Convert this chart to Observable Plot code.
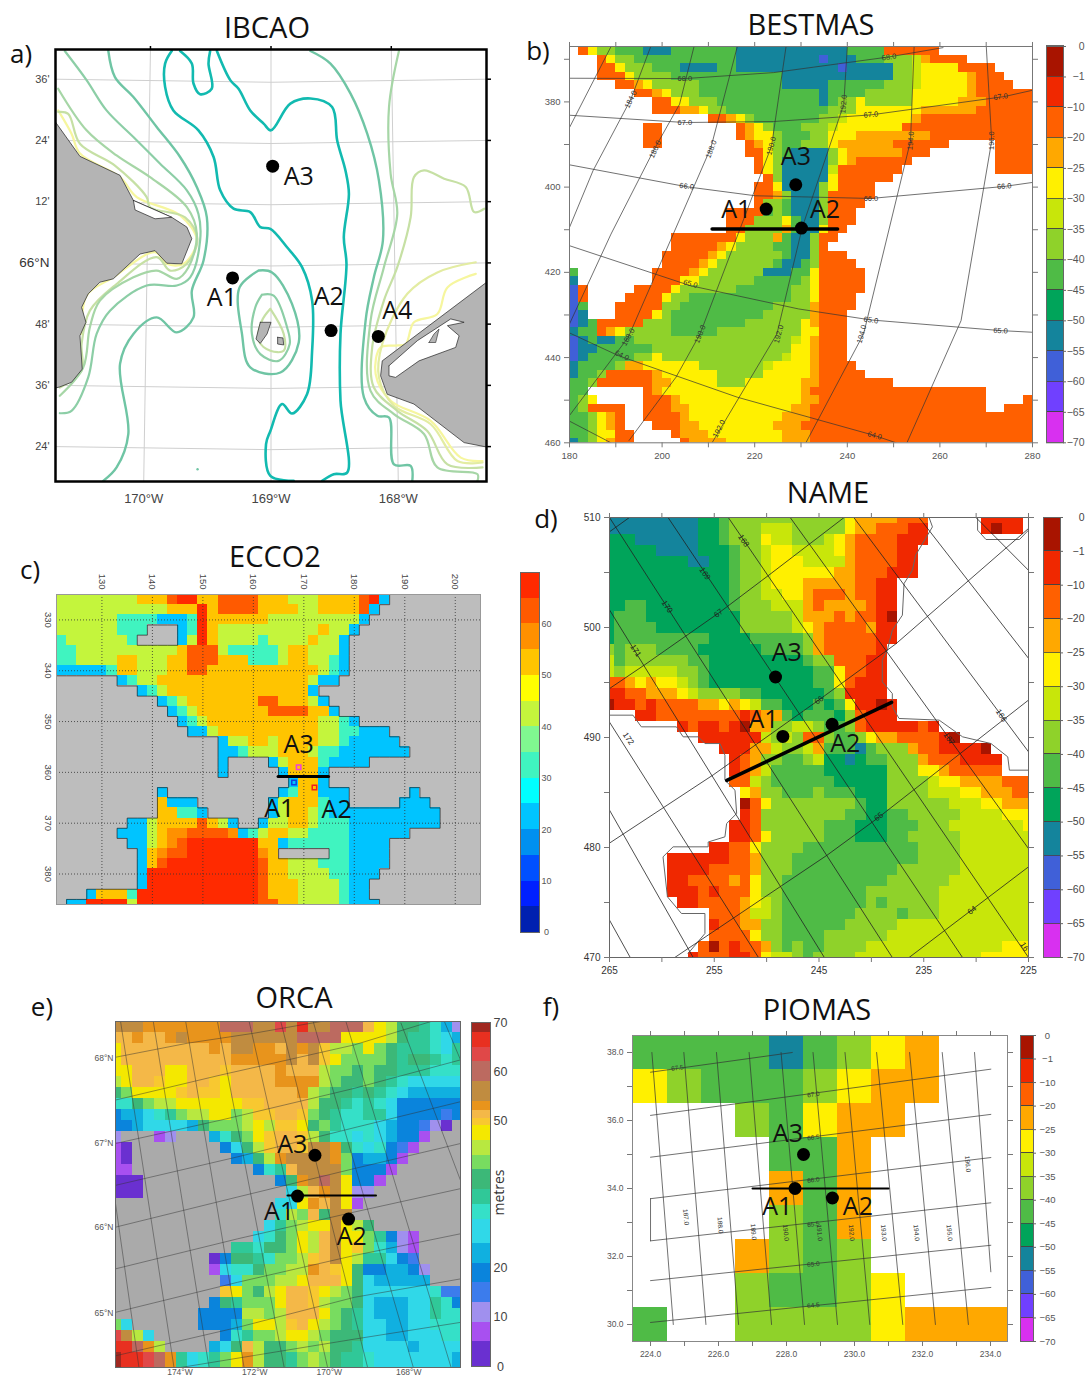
<!doctype html>
<html><head><meta charset="utf-8">
<script src="https://cdn.jsdelivr.net/npm/d3@7"></script>
<script src="https://cdn.jsdelivr.net/npm/@observablehq/plot@0.6"></script>
<style>
html,body{margin:0;background:#fff}
#page{position:relative;width:1085px;height:1377px;overflow:hidden;background:#fff;font-family:"Open Sans"}
.t{position:absolute;transform:translate(-50%,-50%);white-space:nowrap;color:#111;line-height:1}
#page svg{position:absolute;max-width:none}
</style></head><body><div id="page"></div>
<script>
// ---------- DATA ----------
const titles=[["IBCAO",267,26],["BESTMAS",811,23],["ECCO2",275,555],["NAME",828,491],["ORCA",294,996],["PIOMAS",817,1008]];
const letters=[["a)",21,53],["b)",538,50],["c)",30,569],["d)",546,518],["e)",42,1006],["f)",551,1006]];

// shared depth classes of panels b, d, f
const nclCodes=["a","b","c","d","e","f","g","h","i","j","k","l","m","."];
const nclColors=["#a81400","#f02800","#ff6000","#ffa800","#fff000","#c8e60a","#8fd22a","#4fbb46","#00a45a","#14849c","#4060d8","#7040ff","#d830f0","#ffffff"];
const nclLabels=["0","−1","−10","−20","−25","−30","−35","−40","−45","−50","−55","−60","−65","−70"];

// ---------- a) IBCAO ----------
const aLatTicks=[65.4,65.6,65.8,66,66.2,66.4,66.6];
const aLatLabels=["24'","36'","48'","66°N","12'","24'","36'"];
const aLonTicks=[-170,-169,-168];
const aTopTicks=[-169.947,-169,-168.055];
const iso50=[
[[-169.425,66.692],[-169.32,66.597],[-169.255,66.569],[-169.163,66.498],[-169.058,66.455],[-169,66.433],[-168.848,66.52],[-168.69,66.537],[-168.52,66.509],[-168.48,66.4],[-168.415,66.302],[-168.388,66.226],[-168.428,66.084],[-168.407,65.997],[-168.454,65.768],[-168.454,65.55],[-168.402,65.315],[-168.507,65.31],[-168.598,65.288]],
[[-169.78,66.692],[-169.832,66.651],[-169.832,66.575],[-169.767,66.498],[-169.57,66.433],[-169.451,66.346],[-169.399,66.237],[-169.294,66.177],[-169.163,66.166],[-169.084,66.117],[-169.005,66.111],[-168.874,66.051],[-168.756,65.986],[-168.677,65.877],[-168.677,65.713],[-168.717,65.571],[-168.835,65.508],[-168.913,65.539],[-169.005,65.451],[-169.039,65.408],[-169.005,65.304],[-168.822,65.288]],
[[-169.714,66.692],[-169.622,66.651],[-169.609,66.586],[-169.557,66.551],[-169.465,66.569],[-169.491,66.651],[-169.478,66.692]]];
const iso45=[
[[-170.278,66.692],[-170.226,66.607],[-170.081,66.542],[-169.898,66.444],[-169.714,66.346],[-169.583,66.248],[-169.504,66.149],[-169.53,66.008],[-169.622,65.909],[-169.609,65.822],[-169.74,65.773],[-169.898,65.822],[-170.081,65.768],[-170.186,65.67],[-170.121,65.441],[-170.213,65.332],[-170.318,65.288]],
[[-168.69,66.692],[-168.533,66.651],[-168.375,66.553],[-168.244,66.422],[-168.152,66.269],[-168.121,66.073],[-168.192,65.953],[-168.257,65.811],[-168.27,65.561],[-168.165,65.501],[-168.073,65.495],[-168.034,65.342],[-167.903,65.337],[-167.89,65.288]],
[[-169.097,65.975],[-168.992,65.969],[-168.835,65.866],[-168.782,65.74],[-168.926,65.642],[-169.163,65.659],[-169.228,65.768],[-169.247,65.92],[-169.097,65.975]]];
const iso40=[
[[-170.62,66.692],[-170.449,66.597],[-170.292,66.498],[-170.081,66.411],[-169.871,66.324],[-169.661,66.237],[-169.57,66.16],[-169.557,66.073],[-169.635,65.953],[-169.74,65.926],[-169.977,65.926],[-170.265,65.844],[-170.37,65.768],[-170.436,65.626],[-170.567,65.517],[-170.659,65.509]],
[[-169.071,65.896],[-168.979,65.893],[-168.874,65.79],[-168.853,65.735],[-168.94,65.68],[-169.084,65.702],[-169.15,65.768],[-169.123,65.855],[-169.071,65.896]]];
const iso35=[
[[-170.672,66.569],[-170.449,66.433],[-170.213,66.351],[-169.95,66.28],[-169.661,66.182],[-169.583,66.095],[-169.648,65.986],[-169.74,65.948],[-169.898,65.975],[-170.081,65.953],[-170.344,65.877],[-170.423,65.79],[-170.475,65.659],[-170.659,65.566]],
[[-167.995,66.692],[-168.073,66.509],[-168.06,66.291],[-168.008,66.16],[-168.113,65.986],[-168.218,65.811],[-168.218,65.582],[-168.034,65.506],[-167.798,65.441],[-167.693,65.332],[-167.378,65.31],[-167.378,65.288]]];
const iso30=[
[[-170.672,66.493],[-170.593,66.487],[-170.501,66.389],[-170.226,66.318],[-169.977,66.215],[-169.95,66.182],[-169.675,66.149],[-169.578,66.079],[-169.661,65.997],[-169.793,65.975],[-169.898,66.019],[-170.213,65.931],[-170.423,65.844],[-170.488,65.735],[-170.488,65.648],[-170.659,65.593]],
[[-167.325,66.177],[-167.404,66.166],[-167.47,66.248],[-167.64,66.275],[-167.798,66.302],[-167.877,66.28],[-167.903,66.149],[-168.008,65.986],[-168.113,65.877],[-168.205,65.724],[-168.192,65.593],[-168.008,65.517],[-167.772,65.451],[-167.614,65.342],[-167.338,65.332]],
[[-169.005,65.85],[-168.9,65.768],[-168.9,65.713],[-169.005,65.713],[-169.097,65.746],[-169.071,65.811],[-169.005,65.85]]];
const iso25=[[[-167.391,66.002],[-167.693,65.969],[-167.929,65.899],[-168.126,65.735],[-168.152,65.626],[-168.034,65.533],[-167.745,65.473],[-167.535,65.353],[-167.338,65.348]]];
const iso20=[
[[-170.672,66.498],[-170.567,66.422],[-170.501,66.357],[-170.186,66.28],[-170.055,66.215],[-169.714,66.155],[-169.583,66.073],[-169.688,65.997],[-169.819,65.997],[-169.911,66.035],[-170.239,65.953],[-170.449,65.893],[-170.488,65.768]],
[[-167.391,65.964],[-167.614,65.92],[-167.693,65.833],[-167.877,65.806],[-167.942,65.735],[-168.021,65.73],[-168.139,65.724],[-168.178,65.637],[-168.06,65.55],[-167.745,65.484],[-167.509,65.364],[-167.338,65.353]]];
const aLand=[
[[-170.693,66.46],[-170.501,66.348],[-170.186,66.286],[-170.081,66.204],[-169.78,66.149],[-169.661,66.117],[-169.622,66.079],[-169.701,65.997],[-169.819,65.999],[-169.911,66.04],[-170.029,66.029],[-170.239,65.948],[-170.344,65.937],[-170.436,65.899],[-170.488,65.855],[-170.454,65.806],[-170.501,65.762],[-170.483,65.653],[-170.567,65.61],[-170.659,65.595],[-170.8,65.58],[-170.8,66.46],[-170.693,66.46]],
[[-167.2,65.97],[-168.126,65.68],[-168.139,65.631],[-168.087,65.571],[-167.877,65.539],[-167.483,65.413],[-167.2,65.39],[-167.2,65.97]],
[[-169.084,65.806],[-169,65.806],[-169.031,65.768],[-169.084,65.737],[-169.118,65.751],[-169.084,65.806]],
[[-168.948,65.757],[-168.906,65.755],[-168.9,65.732],[-168.948,65.735],[-168.948,65.757]]];
const aLagoons=[
[[-170.081,66.204],[-170.068,66.173],[-169.911,66.144],[-169.78,66.149],[-170.081,66.204]],
[[-168.073,65.664],[-168.073,65.631],[-168.021,65.626],[-167.837,65.68],[-167.549,65.724],[-167.522,65.762],[-167.614,65.795],[-167.483,65.806],[-167.588,65.817],[-167.85,65.746],[-168.073,65.664]]];
const aSpit=[[-167.759,65.74],[-167.719,65.768],[-167.68,65.784],[-167.706,65.74],[-167.759,65.74]];
const aSites=[[-168.987,66.316],[-169.302,65.951],[-168.528,65.779],[-168.157,65.76]];
const aNames=[["A3",-168.782,66.28],["A1",-169.386,65.884],["A2",-168.546,65.888],["A4",-168.008,65.844]];

// ---------- b) BESTMAS (run-length rows, 2 grid units per cell) ----------
const bRows=[".ceg2h3j3h7j12h4c6.10",".3ceg2h11j9kj3h3g3fdc4.7",".3c2eg3h3j4h2j11kj5g2fe4c4.4",".3c3eg4h12j12g2fe5dc3.3",".5c2deg5h9j5h6g3fe5dc4.2",".7c2deg3h13jh4g5e6dc6",".9c2e2g3h11jhg2eg5e5d3c5",".9c3d2eg2h11g3e7d6c6",".15c2degh7g2fe7dc12",".8c2.8cdegh3g3fe7c14",".8c2.8cde2gh3g2e3d8c11",".8c2.9cdegh2g3ed6c6.5c4",".19c2eghj4ged6c3.7c4",".20cegj5gedc6.9c4",".20cegj5fc7.10c4",".21cgj5ec6.15",".20c2ej4gec4.17",".20c2dgj3gc5.17",".20cg2hj3gc4.18",".17c4hghj3gc3.19",".17c3g3ehj2gc3.19",".17c2g4dhj2ec2.20",".11c7eg3dhj2gc2.21",".11c5deg4h2j2gc.22",".10c5deg6hj2gc3.20",".10c4deg6hj2hgc4.19","h.8c4deg6j3h2ec5.18","j.8c3e2g6h5gec5.18","kc.5c4eg6h6g2ec5.18","kc.4c4eg2h11g2ec4.19","kh.3c5g2h10g4dc4.19","kj.3c4egh10g5dc3.20","kjhc5g3h8g6edc3.20","jh2cdeg5h5g9e2c3.20","kjhj2h2g17fedc3.20","kj2h6g15e2dc3.20","kjh5g2eg13fe2dc3.20","jh4gd2e6g7fe4dc4.19","jh2gc5de6g5e5dc5.18","h2gc6d2e5g3e6d2c8.15","h2.6cde15dc19.5","hge.5c3de13d2c18.4c","hgc4.2c3d2e11d2c19.2c3","h2gedc.2c4de10d3c24","h2gedc.3c3d2e8d3c25","h2ge2c2.4cd3e8d3c24","jhgedc2.5cd4e6d3c24"];
const bLat=[[[180,374.45],[204.94,374.53],[224.04,373.13],[248.98,369.45],[260.67,367.27]],
[[180,383.13],[204.94,384.84],[224.04,384.61],[245.08,383.05],[273.92,378.75],[280,377.27]],
[[180,394.77],[205.33,399.92],[220.14,402.03],[245.08,402.66],[273.92,399.84],[280,398.9]],
[[180,413.75],[206.11,423.13],[229.49,428.59],[245.08,431.17],[273.14,433.67],[280,434.06]],
[[180,434.22],[190.52,439.53],[216.24,449.3],[245.86,458.28],[250.54,460]],
[[180,454.92],[188.96,460]]];
const bLon=[[[188.96,367.03],[180,386.02]],
[[197.54,367.03],[193.25,379.38],[185.07,396.17],[180,409.45]],
[[206.89,367.03],[203.77,380.55],[198.32,391.09],[188.96,411.02],[180,432.11]],
[[216.24,367.03],[210.55,390.7],[192.7,435.23],[180,453.59]],
[[226.77,367.03],[223.65,390.31],[208.2,434.45],[203,444.61],[192.86,459.45]],
[[240.01,367.03],[239.24,380.55],[230.27,409.45],[224.8,434.45],[210.79,460]],
[[254.43,367.03],[253.66,389.14],[243.52,434.45],[231.05,460]],
[[270.02,367.03],[271.19,389.14],[264.57,431.33],[252.88,460]]];
const bLineLabels=[["68.0",204.9,374.5,0],["68.0",249,369.5,-8],["67.0",204.9,384.8,0],["67.0",245.1,383,-5],["67.0",273.1,378.8,-8],["66.0",205.3,399.8,8],["66.0",245.1,402.7,0],["66.0",273.9,399.8,-5],["65.0",206.1,422.7,15],["65.0",245.1,431.2,8],["65.0",273.1,433.7,3],["64.0",191.3,439.5,25],["64.0",245.9,458.3,15],
["184.0",193.25,379.4,-65],["186.0",198.5,391.1,-65],["188.0",210.6,391.1,-68],["190.0",223.6,390.3,-75],["192.0",239.2,380.5,-85],["194.0",253.7,389.1,-85],["196.0",271.2,389.1,-90],["188.0",192.7,435.2,-60],["190.0",208.2,434.5,-68],["192.0",225.2,434.5,-75],["194.0",243.1,434.5,-75],["192.0",212.3,456.7,-62]];
const bSites=[[228.87,399.45],[222.48,405.16],[230.1,409.6]];
const bNames=[["A3",228.9,393],["A1",216,405.4],["A2",235.2,405.4]];
const bSection=[[210.8,409.84],[237.9,409.84]];

// ---------- c) ECCO2 (run-length rows, 2 grid units per cell) ----------
const eccoCodes=["A","B","C","D","E","F","G","H","I","J","K","L","M","N","#"];
const eccoColors=["#0020b0","#0020ff","#0050ff","#0090f0","#00c4ff","#00ffff","#40f4c0","#80f890","#c4f53c","#ffff00","#ffc400","#ff9000","#ff5a00","#ff2a00","#bdbdbd"];
const cRows=["I8K3MN2K2M4K3I3K4MNE#9","I11K3NKM4K4I2K4ME#10","I6G4E3GNK6I9E#11","I6G3#3EGNKI10KI2E#12","GI6G#4EINKI4GI4KI2E#13","G2I10KM3IG5IK2I3E#13","G2I4K2I3K2M3K3G3IK2I2GE#13","E5GK2I3K2M2K11IGE#13","#6EGI2K15IE2#14","#8EGIK14E#16","#10EGIK7M2K3IE#15","#11EGIK7M4K2E#14","#12EGIK11I2GE#12","#13E2IK10I2G2E3#9","#16EI2K2IK4I2GE5#8","#16E2GI3K3IG2E7#7","#16E#4EIK3GE4#11","#16E#5EK3E#15","#23EK2E#15","#10E#11EGK2E3#6E#6","#10KE3#7EIK3GE2#5E3#5","#10K2G2E#6EIK2IGE11#4","#7E2IK4MKIE#2EI2K2IG3E9#4","#6E3IKL2M4LEGIK2I2G4E6#7","#7E2IKLMN7K2EG6E4#9","#8EKLM2N7LK#5G2E4#9","#8EKMN9MK2I3G3E4#9","#8EN11MK2I4G2E3#10","#8EN11MK3I4GE2#11","#3EK3GN12MK3I4GE2#11","#E2N4IN12M2K2I4GE3#10"];
const cXTicks=[130,140,150,160,170,180,190,200];
const cYTicks=[330,340,350,360,370,380];
const cBarTicks=[0,10,20,30,40,50,60];
const cSection=[[164.9,360.8],[174.9,360.8]];
const cMagenta=[[168.97,358.98]],cBlue=[[168.05,361.98]],cRed=[[172.1,362.96]];
const cNames=[["A3",168.97,354.7],["A1",165.15,367.2],["A2",176.5,367.5]];

// ---------- d) NAME (run-length rows, one per grid unit) ----------
const dRows=["j9i2hg11ed4c3.5b4.","j9i2hg3f3g5ed2c3b2.5bab2.","i3j6i2hg3ef2g3fedc4b3.10","i5j4i3hg2fe2f4edc4b2.11","i8j2i2hg2fe3f4dc4b2.11","i12hg2fe6d2c3b3.11","i12hg2fe3d5c2b2.13","i12hg2f2e2dc3dc2b2.13","i2h2i8hg3f3dcd4cb2.13","ih3i9g5fd3cdc2ba.13","ih4i8g5fedc4db2.13","ih9i4h5gdc5b2.13","ghg3h4i6h4gdc5b.14","fhg6h2i9hg2c3b2.14","fgf5g2hi10h2ec2b2.14","c2dede2fghi10h2ecb3.14","b2c2d3efg4h2i6hgb4.14","ab2cbc4d2edefh2i3hiheb2ab.13",".3b2c8bcd2hih3igcb3.13",".7bcb2cbad2g2f2gh2gcb5cb.9",".9b6fgfgc2gh2ged2c4ba.7",".11b3d2fg2fdh3jhg3dc2b4a.4",".12bcdg2h2gfi2jih2g3dc3b4.3",".12bcdfh5i6g3e2dc5.3",".12c2fgh6i5g4fe2d4c3",".13edg2h3gh3i3g4f3e2d3c2",".13aceg8hi2g6f3e2d3",".13bcg8h2i2h2g5f4e3",".12b2cg6h3i3h3g3f7e",".12b2ceg5h3i3h2g5f7",".10b2c2eg4h11g4f7",".6b6c2dg3h12g4f7",".6b4c4dg3h10g6f7",".6b2c4dceg2h10g6f8",".6b3cbc3eg2h8g7f9",".7b2c4defgh8ghg5f9",".10c3df2gh7g4hg3f9",".10bc2d2g2h6g5f13",".10c4eg2h4g6f14",".9cacbc2dghgh2g4f13e3",".8bc3b2cef2ghg4f12e5"];
const dLon=[[[265,510],[238,470]],[[259.41,510],[231.3,470]],[[253.66,510],[225,470]],[[247.75,510],[225,479.9]],[[241.68,510],[225,488.7]],[[235.45,510],[225,497.2]],[[230.02,510],[225,505.2]],[[265,501.6],[244.49,470]],[[265,491.4],[250.78,470]],[[265,483.4],[257.01,470]],[[265,473.4],[263.02,470]]];
const dLat=[[[236.4,470],[225,478.24]],[[258.77,470],[244.23,479.3],[239.44,482.64],[225,493.4]],[[265,480.4],[255.1,486.6],[245.03,493.4],[237.68,498.5],[225,509]],[[265,494.45],[261.65,496.6],[254.6,501.3],[249.8,504.75],[242.6,510]],[[265,508.7],[263.1,510]]];
const dCoast=[[[265,492.03],[262.76,492.03],[261.96,490.97],[258.61,490.97],[257.97,490.06],[256.53,490.06],[255.89,489.45],[254.46,489.45],[253.98,488.39],[253.98,486.12],[253.02,485.21],[252.86,483.09],[253.82,482.18],[253.98,480.97],[255.58,480.5],[255.58,480.06],[258.93,480.06],[259.89,479.15],[259.47,475.52],[258.13,474],[255.89,474],[255.89,472.18],[257.5,470.36]],
[[234.49,510],[234.17,509.15],[235.77,506.58],[236.09,505.2],[236.88,504],[237.04,501.12],[238,499.76],[238.48,497.94],[238.96,497.03],[238.96,495.06],[238,494],[238,492.79],[237.36,491.73],[233.53,491.58],[231.29,490.06],[228.58,489.45],[226.98,488.24],[226.82,487.03],[225,487.03]],
[[229.86,510],[229.86,508.85],[229.06,508],[225.86,508],[225,508.85]]];
const dLineLabels=[["168",252.2,507.9,57],["169",255.9,504.9,57],["170",259.5,501.9,57],["171",262.5,497.9,57],["172",263.2,489.9,57],["167",232.6,489.9,57],["166",227.6,492,57],["16",225.4,471,57],["67",254.6,501.3,-37],["66",245,493.4,-37],["65",239.3,482.8,-37],["64",230.4,474.3,-37]];
const dSites=[[249.15,495.5],[248.45,490.1],[243.75,491.2]];
const dNames=[["A3",248.07,497.7],["A1",250.3,491.6],["A2",242.5,489.45]];
const dSection=[[253.8,486.1],[238.07,493.2]];

// ---------- e) ORCA (one character per model cell) ----------
const orcaCodes=["p","q","r","s","t","u","v","w","x","y","z","A","B","C","D","E","F","G","H","I","J","#"];
const orcaColors=["#6a30d0","#a850f0","#a090ee","#3c7cec","#0a84dc","#10b0e0","#30d8e8","#35e0c8","#30c898","#3cb878","#78dc60","#b8e840","#f4e800","#f8c830","#f4b848","#e8941c","#c08c40","#bc6a60","#e04848","#e83020","#a02820","#aaaaaa"];
const orcaEdges=[0,5,9,13,17,21,25,30,33,36,40,43,46,49,50.5,52,54,58,62,65,68,70];
const eRows=["FFFEEEEEEEGGGFFHFIFFGGGDBAyyxwur","DDEDDEFEEEEFFFFFFGGGGBBBBAyxxwvu","BDDDDDDDDEDFFEEDFEFCAAzBzyxxxwvx","BDDDDDDDDDDEEEEEFDFCBzzzzyxyyxwx","BBDDDBBDDDCDDDDEDDDAzzyzyyxxxwww","ABDDCBBDDCBDDDDEEEEAzyyzyxwvvvvv","yzBBBBCDCCBDDDDDDEAzyyxyxwvuuuuu","wwyzAABBBBBBCCDDDDAyyxwxwvtttttt","tuuvwxzAABBzACCDDCzyxwwxxvttttst","ttuvvvvuyzzzABACCByzxwwwvuttsrp#","r###qr###uwyzBCDDCAywwvwvuttq###","qp########tvyACDDCFFEywvwtsq####","qp#########tuyAEFFFFEztuutq#####","qq###########twxDFFFFztttq######","ppp############tyEFGFBttq#######","ppp#############vADEFBrr########","###############vvBEDFBq#########","###############wAzDyFF##########","##############vxzABBFBAy########","#############vwyzBADFBBzxtrq####","###########xxwyyzBADFBCzwurq####","#########ptyyxwzzACDFBAxxvts####","#########qvwwyzzAAEDCByttuutr###","##########svzzzAABDDDByvuuuuu###","##########CBzyABDDCBAzyvvvvvvwss","#########tyxzzzBDDCAzzyvuuuvvxwt","########ttttAAzADDDBzyxvuuuvvxww","zv######tttuzBBACDBAzyxvvuuvvwww","HFAv######twxzzABBAzyyyvvuuvvvww","IIGEA####uvyDAyyzAzAyyxvvvvuvvvv","JIIHGExvwxzBEAyyxzAzyxxwvvvvvvvu","JIIHGExvwxzBEAyyxzAzyxxwvvvvvvvu"];
const eLat=[[[.45,3.24],[6.97,1.97],[13.03,1.06],[19.09,0]],[[.45,7.12],[10,4.85],[22.12,2.12],[29.09,0]],[[.45,11.06],[10,8.94],[22.12,6.06],[31.76,3.48]],[[.45,14.85],[11.52,12.27],[22.42,9.55],[31.76,7.27]],[[.45,18.64],[11.52,15.91],[22.12,13.33],[31.76,11.06]],[[.45,22.42],[11.52,19.7],[22.12,17.27],[31.76,15.15]],[[.45,26.36],[11.52,23.64],[22.12,21.21],[31.76,19.24]],[[.45,30.3],[11.52,27.73],[22.12,25],[31.76,23.33]],[[6.36,31.36],[22.12,28.79],[31.76,27.27]]];
const eLon=[[[.91,0],[5.76,31.36]],[[3.88,0],[8.94,31.36]],[[6.82,0],[12.12,31.36]],[[9.7,0],[15.76,31.36]],[[12.58,0],[19.7,31.36]],[[15.45,0],[23.33,31.36]],[[18.39,0],[27.48,31.36]],[[21.36,0],[30.91,31.36]],[[26.36,.15],[31.76,14.4]],[[30.3,0],[31.76,3.48]],[[.45,16.5],[2.58,31.36]]];
const eXTicks=[6.3,13.09,19.85,27.06],eXLabels=["174°W","172°W","170°W","168°W"];
const eYTicks=[3.33,11.06,18.64,26.42],eYLabels=["68°N","67°N","66°N","65°N"];
const eBarTicks=[0,10,20,50,60,70];
const eSites=[[18.55,12.12],[16.97,15.82],[21.6,17.91]];
const eNames=[["A3",16.5,11.2],["A1",15.3,17.27],["A2",21.9,19.55]];
const eSection=[[16.06,15.76],[24.09,15.76]];

// ---------- f) PIOMAS (one character per model cell) ----------
const fRows=["hhhhjhged..","eghhhgedd..","...ghedd...","....hhd....","....dhd....","....ghd....","...dghg....","...ghhge...","h..ggggeddd"];
const fLat=[[[224,37.42],[228.17,38]],[[224,36.15],[234.01,37.51]],[[224,34.92],[234.01,36.18]],[[224,33.7],[234.01,34.91]],[[224,32.46],[234.01,33.58]],[[224,31.29],[234.01,32.33]],[[224,30.06],[234.01,31.09]]];
const fLon=[[[224.04,38],[224.67,30]],[[224.98,38],[225.63,30]],[[225.94,38],[226.59,30]],[[226.9,38],[227.56,30]],[[227.84,38],[228.53,30]],[[228.78,38],[229.5,30]],[[229.72,38],[230.45,30]],[[230.65,38],[231.42,30]],[[231.62,38],[232.38,30]],[[232.58,38],[233.35,30]],[[233.53,38],[234.01,31.55]],[[224,33.7],[224,32.46]]];
const fLineLabels=[["67.5",224.79,37.54,-8],["67.0",228.79,36.76,-8],["66.5",228.79,35.5,-8],["66.0",228.79,34.25,-8],["65.5",228.79,32.95,-8],["65.0",228.79,31.77,-6],["64.5",228.79,30.56,-6],["187.0",225.04,33.16,85],["188.0",226.05,32.92,85],["189.0",227.03,32.72,85],["190.0",227.98,32.7,85],["191.0",228.97,32.7,85],["192.0",229.91,32.7,85],["193.0",230.86,32.7,85],["194.0",231.82,32.7,85],["195.0",232.79,32.7,85],["196.0",233.33,34.72,85]];
const fSites=[[228.5,35],[228.25,34],[229.35,33.72]];
const fNames=[["A3",228.04,35.6],["A1",227.73,33.45],["A2",230.1,33.45]];
const fSection=[[227,34],[231,34]];

// ---------- helpers ----------
const page=document.getElementById("page");
const M=44;
const decode=s=>[...s.matchAll(/(\D)(\d*)/g)].map(m=>m[1].repeat(+m[2]||1)).join("");
const nclScale={type:"ordinal",domain:nclCodes,range:nclColors};
function add(svg,left,top){svg.style.left=left+"px";svg.style.top=top+"px";page.appendChild(svg);}
function map(fr,xd,yd,color,marks){
  const svg=Plot.plot({width:fr.r-fr.l+2*M,height:fr.b-fr.t+2*M,margin:M,
    x:{domain:xd,axis:null},y:{domain:yd,axis:null},color,
    style:{background:"transparent",fontFamily:"Liberation Sans",overflow:"visible"},marks});
  add(svg,fr.l-M,fr.t-M);
}
function bar(fr,yd,classes,color,labels,{off,fontSize,outline="none",fill="#555",anchor="middle",ticks=false,extra=()=>[]}){
  const w=fr.r-fr.l;
  const svg=Plot.plot({width:w+64,height:fr.b-fr.t+2*M,marginLeft:4,marginRight:60,marginTop:M,marginBottom:M,
    x:{domain:[0,1],axis:null},y:{domain:yd,axis:null},color,
    style:{background:"transparent",fontFamily:"Liberation Sans",overflow:"visible"},
    marks:[
      Plot.rect(classes,{x1:()=>0,x2:()=>1,y1:"y1",y2:"y2",fill:"code",stroke:outline,strokeWidth:outline==="none"?0:.8,shapeRendering:"crispEdges"}),
      Plot.frame({stroke:"#666"}),
      ticks?Plot.ruleY(labels,{y:"v",x1:()=>1,x2:()=>1+3/w,stroke:"#666"}):null,
      Plot.text(labels,{x:()=>1+off/w,y:"v",text:"t",fontSize,fill,textAnchor:anchor}),
      ...extra(w)
    ]});
  add(svg,fr.l-4,fr.t-M);
}
const cellMark=(cells)=>Plot.rect(cells,{x1:"x1",x2:"x2",y1:"y1",y2:"y2",fill:"code",clip:true,shapeRendering:"crispEdges"});
const gridCells=(rows,fx,fy)=>rows.flatMap((row,r)=>[...decode(row)].map((code,c)=>({code,...fx(c),...fy(r)})));
const lines=(arr,o)=>arr.map(p=>Plot.line(p,{x:d=>d[0],y:d=>d[1],clip:true,...o}));
const lineLabels=(arr,size,fill="#333")=>Plot.text(arr,{x:d=>d[1],y:d=>d[2],text:d=>d[0],rotate:d=>d[3],fontSize:size,fill});
const siteMarks=(sites,names,section,lw,size=25)=>[
  section?Plot.line(section,{x:d=>d[0],y:d=>d[1],stroke:"black",strokeWidth:lw}):null,
  sites?Plot.dot(sites,{x:d=>d[0],y:d=>d[1],r:6.5,fill:"black"}):null,
  Plot.text(names,{x:d=>d[1],y:d=>d[2],text:d=>d[0],fontSize:size,fontFamily:"Open Sans",fill:"#111"})
];
function ticks4(xt,xf,yt,yf,o){
  const s={label:null,tickSize:5,color:"#777"};
  const text=o.text||"#555";
  return [
    Plot.axisX({anchor:"bottom",ticks:xt,tickFormat:()=>"",...s}),
    Plot.axisX({anchor:"top",ticks:xt,tickFormat:()=>"",...s}),
    Plot.axisY({anchor:"left",ticks:yt,tickFormat:()=>"",...s}),
    Plot.axisY({anchor:"right",ticks:yt,tickFormat:()=>"",...s}),
    Plot.axisX({anchor:"bottom",ticks:xt,tickFormat:xf,label:null,tickSize:0,tickPadding:o.pad||10,fontSize:o.fontSize,color:text}),
    Plot.axisY({anchor:"left",ticks:yt,tickFormat:yf,label:null,tickSize:0,tickPadding:o.pad||10,fontSize:o.fontSize,color:text})
  ];
}
const nclClasses=nclCodes.slice(0,13).map((code,i)=>({code,y1:i,y2:i+1}));
const nclTicks=nclLabels.map((t,v)=>({v,t}));

// ---------- a) ----------
{
  const fr={l:55,t:49,r:486,b:481};
  const xd=[-170.693,-167.307],yd=[65.286,66.697];
  const latLabel=new Map(aLatTicks.map((v,i)=>[v,aLatLabels[i]]));
  const gridLat=aLatTicks.map(L=>[[xd[0],L],[-169,L-.01],[xd[1],L]]);
  const gridLon=[[[aTopTicks[0],yd[1]],[aLonTicks[0],yd[0]]],[[aTopTicks[1],yd[1]],[aLonTicks[1],yd[0]]],[[aTopTicks[2],yd[1]],[aLonTicks[2],yd[0]]]];
  const smooth={curve:"catmull-rom"};
  map(fr,xd,yd,undefined,[
    ...lines(gridLat,{stroke:"#cfcfcf",strokeWidth:1}),
    ...lines(gridLon,{stroke:"#cfcfcf",strokeWidth:1}),
    ...lines(iso20,{stroke:"#f6f69e",strokeWidth:2.2,...smooth}),
    ...lines(iso25,{stroke:"#e3eca2",strokeWidth:2.2,...smooth}),
    ...lines(iso30,{stroke:"#c6e0a4",strokeWidth:2.2,...smooth}),
    ...lines(iso35,{stroke:"#a6d6a6",strokeWidth:2.2,...smooth}),
    ...lines(iso40,{stroke:"#8ccea6",strokeWidth:2.2,...smooth}),
    ...lines(iso45,{stroke:"#6fc5a4",strokeWidth:2.4,...smooth}),
    ...lines(iso50,{stroke:"#12bab0",strokeWidth:2.6,...smooth}),
    ...lines(aLand,{fill:"#b4b4b4",stroke:"#222",strokeWidth:.7}),
    ...lines(aLagoons,{fill:"white",stroke:"#222",strokeWidth:.7}),
    ...lines([aSpit],{fill:"#b4b4b4",stroke:"#222",strokeWidth:.6}),
    Plot.dot([[-169.577,65.326]],{x:d=>d[0],y:d=>d[1],r:1.2,fill:"#6fc5a4"}),
    Plot.frame({stroke:"black",strokeWidth:2.5}),
    Plot.axisX({anchor:"top",ticks:aTopTicks,tickFormat:()=>"",label:null,tickSize:4,color:"black",strokeWidth:1.5}),
    Plot.axisY({anchor:"right",ticks:aLatTicks,tickFormat:()=>"",label:null,tickSize:4,color:"black",strokeWidth:1.5}),
    Plot.axisX({anchor:"bottom",ticks:aLonTicks,tickFormat:d=>`${-d}°W`,label:null,tickSize:0,tickPadding:12,fontSize:13,color:"#444"}),
    Plot.axisY({anchor:"left",ticks:aLatTicks.filter(v=>v!==66),tickFormat:d=>latLabel.get(d),label:null,tickSize:0,tickPadding:6,fontSize:11,color:"#444"}),
    Plot.axisY({anchor:"left",ticks:[66],tickFormat:d=>latLabel.get(d),label:null,tickSize:0,tickPadding:6,fontSize:13.5,color:"#333"}),
    ...siteMarks(aSites,aNames,null,0)
  ]);
}
// ---------- b) ----------
{
  const cells=gridCells(bRows,c=>({x1:180+2*c,x2:182+2*c}),r=>({y1:367+2*r,y2:369+2*r}));
  map({l:569,t:45.7,r:1032,b:442},[180,280],[460,367],nclScale,[
    cellMark(cells),
    ...lines(bLat,{stroke:"#333",strokeWidth:.7}),
    ...lines(bLon,{stroke:"#333",strokeWidth:.7}),
    lineLabels(bLineLabels,7.5),
    Plot.frame({stroke:"#777"}),
    ...ticks4(d3.range(180,281,10),d=>d%20===0?d:"",d3.range(370,461,10),d=>d%20===0?d:"",{fontSize:9.5,pad:9}),
    ...siteMarks(bSites,bNames,bSection,3.5)
  ]);
  bar({l:1046,t:45.7,r:1063,b:442},[13,0],nclClasses,nclScale,nclTicks,{off:21,fontSize:10.5,outline:"#444",anchor:"end",ticks:true});
}
// ---------- c) ----------
{
  const scale={type:"ordinal",domain:eccoCodes,range:eccoColors};
  const cells=gridCells(cRows,c=>({x1:121+2*c,x2:123+2*c}),r=>({y1:325+2*r,y2:327+2*r}));
  const rowsC=cRows.map(decode);
  const isLand=(r,c)=>(rowsC[r]||"")[c]==="#";
  const coast=[];
  rowsC.forEach((row,r)=>[...row].forEach((_,c)=>{
    const x=121+2*c,y=325+2*r;
    if(c<41&&isLand(r,c)!==isLand(r,c+1))coast.push({x1:x+2,x2:x+2,y1:y,y2:y+2});
    if(r<30&&isLand(r,c)!==isLand(r+1,c))coast.push({x1:x,x2:x+2,y1:y+2,y2:y+2});
  }));
  const sq=(pts,stroke)=>Plot.dot(pts,{x:d=>d[0],y:d=>d[1],symbol:"square",r:2.5,fill:"none",stroke,strokeWidth:1.5});
  map({l:56,t:594,r:480,b:904},[121,205],[386,325],scale,[
    cellMark(cells),
    Plot.link(coast,{x1:"x1",x2:"x2",y1:"y1",y2:"y2",stroke:"#222",strokeWidth:.7,clip:true}),
    Plot.gridX({ticks:cXTicks,stroke:"#333",strokeOpacity:.8,strokeDasharray:"1,2"}),
    Plot.gridY({ticks:cYTicks,stroke:"#333",strokeOpacity:.8,strokeDasharray:"1,2"}),
    Plot.frame({stroke:"#999"}),
    Plot.axisX({anchor:"top",ticks:cXTicks,label:null,tickSize:0,tickPadding:5,tickRotate:90,fontSize:9.5,color:"#444"}),
    Plot.axisY({anchor:"left",ticks:cYTicks,label:null,tickSize:0,tickPadding:5,tickRotate:90,fontSize:9.5,color:"#444"}),
    ...siteMarks(null,cNames,cSection,3),
    sq(cMagenta,"#f040e0"),sq(cBlue,"#1040e0"),sq(cRed,"#f02020")
  ]);
  bar({l:520,t:572,r:539,b:932},[0,70],eccoCodes.slice(0,14).map((code,i)=>({code,y1:i*5,y2:i*5+5})),scale,cBarTicks.map(v=>({v,t:v})),{off:7,fontSize:9});
}
// ---------- d) ----------
{
  const cells=gridCells(dRows,c=>({x1:265.5-c,x2:264.5-c}),r=>({y1:510.5-r,y2:509.5-r}));
  map({l:609,t:517,r:1028,b:957},[265,225],[470,510],nclScale,[
    cellMark(cells),
    ...lines(dCoast,{stroke:"#666",strokeWidth:1}),
    ...lines(dLon,{stroke:"#222",strokeWidth:.8}),
    ...lines(dLat,{stroke:"#222",strokeWidth:.8}),
    lineLabels(dLineLabels,8,"#222"),
    Plot.frame({stroke:"#666"}),
    ...ticks4(d3.range(265,224,-5),d=>d%10===5?d:"",d3.range(470,511,5),d=>d%10===0?d:"",{fontSize:10,pad:9,text:"#333"}),
    ...siteMarks(dSites,dNames,dSection,3.5)
  ]);
  bar({l:1043,t:517,r:1060,b:957},[13,0],nclClasses,nclScale,nclTicks,{off:24,fontSize:10.5,outline:"#444",fill:"#444",anchor:"end",ticks:true});
}
// ---------- e) ----------
{
  const scale={type:"ordinal",domain:orcaCodes,range:orcaColors};
  const cells=eRows.flatMap((row,r)=>[...row].map((code,c)=>({code,x1:c,x2:c+1,y1:r,y2:r+1})));
  const xl=new Map(eXTicks.map((v,i)=>[v,eXLabels[i]])),yl=new Map(eYTicks.map((v,i)=>[v,eYLabels[i]]));
  map({l:115,t:1021,r:460,b:1367},[.45,31.76],[31.36,0],scale,[
    cellMark(cells),
    ...lines(eLat,{stroke:"#333",strokeWidth:.6,strokeOpacity:.8}),
    ...lines(eLon,{stroke:"#333",strokeWidth:.6,strokeOpacity:.8}),
    Plot.frame({stroke:"#666"}),
    Plot.axisX({anchor:"bottom",ticks:eXTicks,tickFormat:d=>xl.get(d),label:null,tickSize:0,tickPadding:1,fontSize:8.5,color:"#555"}),
    Plot.axisY({anchor:"left",ticks:eYTicks,tickFormat:d=>yl.get(d),label:null,tickSize:0,tickPadding:2,fontSize:8.5,color:"#555"}),
    ...siteMarks(eSites,eNames,eSection,2)
  ]);
  const classes=orcaCodes.slice(0,21).map((code,i)=>({code,y1:orcaEdges[i],y2:orcaEdges[i+1]}));
  bar({l:471,t:1022,r:490,b:1366},[0,70],classes,scale,eBarTicks.map(v=>({v,t:v})),{off:10,fontSize:12.5,fill:"#444",
    extra:w=>[Plot.text(["metres"],{x:()=>1+9/w,y:()=>35.4,text:d=>d,rotate:-90,fontSize:14,fontFamily:"Open Sans",fill:"#333"})]});
}
// ---------- f) ----------
{
  const cells=gridCells(fRows,c=>({x1:223.5+c,x2:224.5+c}),r=>({y1:38.5-r,y2:37.5-r}));
  map({l:632,t:1035,r:1007,b:1341},[223.47,234.5],[29.5,38.5],nclScale,[
    cellMark(cells),
    ...lines(fLat,{stroke:"#333",strokeWidth:.7}),
    ...lines(fLon,{stroke:"#333",strokeWidth:.7}),
    lineLabels(fLineLabels,6.5),
    Plot.frame({stroke:"#888"}),
    ...ticks4(d3.range(224,235),d=>d%2===0?d.toFixed(1):"",d3.range(30,39),d=>d%2===0?d.toFixed(1):"",{fontSize:8.5,pad:9}),
    ...siteMarks(fSites,fNames,fSection,2)
  ]);
  bar({l:1020,t:1035,r:1033,b:1341},[13,0],nclClasses,nclScale,nclTicks,{off:14,fontSize:9.5,outline:"#444",ticks:true});
}
// ---------- titles ----------
for(const [t,x,y] of titles){const d=document.createElement("div");d.className="t";d.textContent=t;d.style.cssText=`left:${x}px;top:${y}px;font-size:29px`;page.appendChild(d);}
for(const [t,x,y] of letters){const d=document.createElement("div");d.className="t";d.textContent=t;d.style.cssText=`left:${x}px;top:${y}px;font-size:26px`;page.appendChild(d);}
</script></body></html>
